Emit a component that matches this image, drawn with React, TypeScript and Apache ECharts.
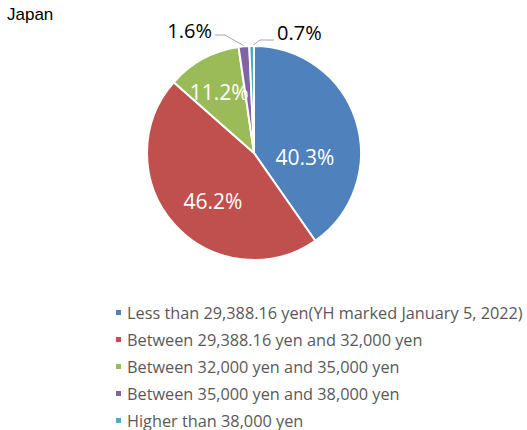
import { useEffect, useRef } from "react";
import * as echarts from "echarts";

// 価格帯ごとの割合（Japan）
const categories = [
  "Less than 29,388.16 yen(YH marked January 5, 2022)",
  "Between 29,388.16 yen and 32,000 yen",
  "Between 32,000 yen and 35,000 yen",
  "Between 35,000 yen and 38,000 yen",
  "Higher than 38,000 yen",
];
const shares = [40.3, 46.2, 11.2, 1.6, 0.7];
const sliceColors = ["#4F81BD", "#C0504D", "#9BBB59", "#8064A2", "#4BACC6"];
// small slices get outside labels with leader lines
const outsideLabel = [false, false, false, true, true];
// nudges so inside labels sit where Excel's best-fit put them
const labelNudge: [number, number][] = [
  [-3, 21],
  [1, 10],
  [-8, -11],
  [0, 0],
  [0, 0],
];
// outside label placement (Excel put 1.6% left and 0.7% right of the top)
const calloutPlace: Record<number, { x: number; y: number; align: string; line: number[][] }> = {
  3: { x: 212, y: 30, align: "right", line: [[246, 47], [225, 35], [215, 35]] },
  4: { x: 277, y: 32, align: "left", line: [[252, 46], [260, 40], [274, 40]] },
};

const FONT = "'Open Sans', 'Noto Sans', sans-serif";

if (typeof document !== "undefined") document.body.style.margin = "0";

export default function App() {
  const ref = useRef<HTMLDivElement>(null);
  useEffect(() => {
    if (!ref.current) return;
    const chart = echarts.init(ref.current, undefined, { renderer: "svg" });
    chart.setOption({
      animation: false,
      backgroundColor: "#ffffff",
      title: {
        text: "Japan",
        left: 7,
        top: 6,
        padding: 0,
        textStyle: { fontFamily: "'Liberation Sans', Arial, sans-serif", fontSize: 17, fontWeight: "normal", color: "#000000" },
      },
      legend: {
        orient: "vertical",
        left: 114,
        top: 303,
        padding: 0,
        itemGap: 8,
        itemWidth: 7,
        itemHeight: 7,
        icon: "rect",
        data: categories,
        textStyle: { fontFamily: FONT, fontSize: 16.3, color: "#595959", lineHeight: 19 },
      },
      series: [
        {
          type: "pie",
          center: [254, 153],
          radius: 107,
          startAngle: 90,
          clockwise: true,
          avoidLabelOverlap: false,
          itemStyle: { borderColor: "#ffffff", borderWidth: 2 },
          labelLine: { lineStyle: { color: "#A6A6A6", width: 1 } },
          labelLayout: (p: { dataIndex: number }) => {
            const c = calloutPlace[p.dataIndex];
            if (c) {
              return { x: c.x, y: c.y, align: c.align, verticalAlign: "middle", labelLinePoints: c.line };
            }
            const [dx, dy] = labelNudge[p.dataIndex];
            return { dx, dy };
          },
          data: categories.map((name, i) => ({
            name,
            value: shares[i],
            itemStyle: { color: sliceColors[i] },
            label: outsideLabel[i]
              ? {
                  show: true,
                  position: "outside",
                  formatter: `${shares[i].toFixed(1)}%`,
                  fontFamily: FONT,
                  fontSize: 20,
                  color: "#000000",
                }
              : {
                  show: true,
                  position: "inside",
                  formatter: `${shares[i].toFixed(1)}%`,
                  fontFamily: FONT,
                  fontSize: 21,
                  color: "#ffffff",
                },
            labelLine: outsideLabel[i] ? { show: true, length: 10, length2: 20 } : { show: false },
          })),
        },
      ],
    });
    return () => chart.dispose();
  }, []);
  return <div ref={ref} style={{ width: 527, height: 430 }} />;
}
